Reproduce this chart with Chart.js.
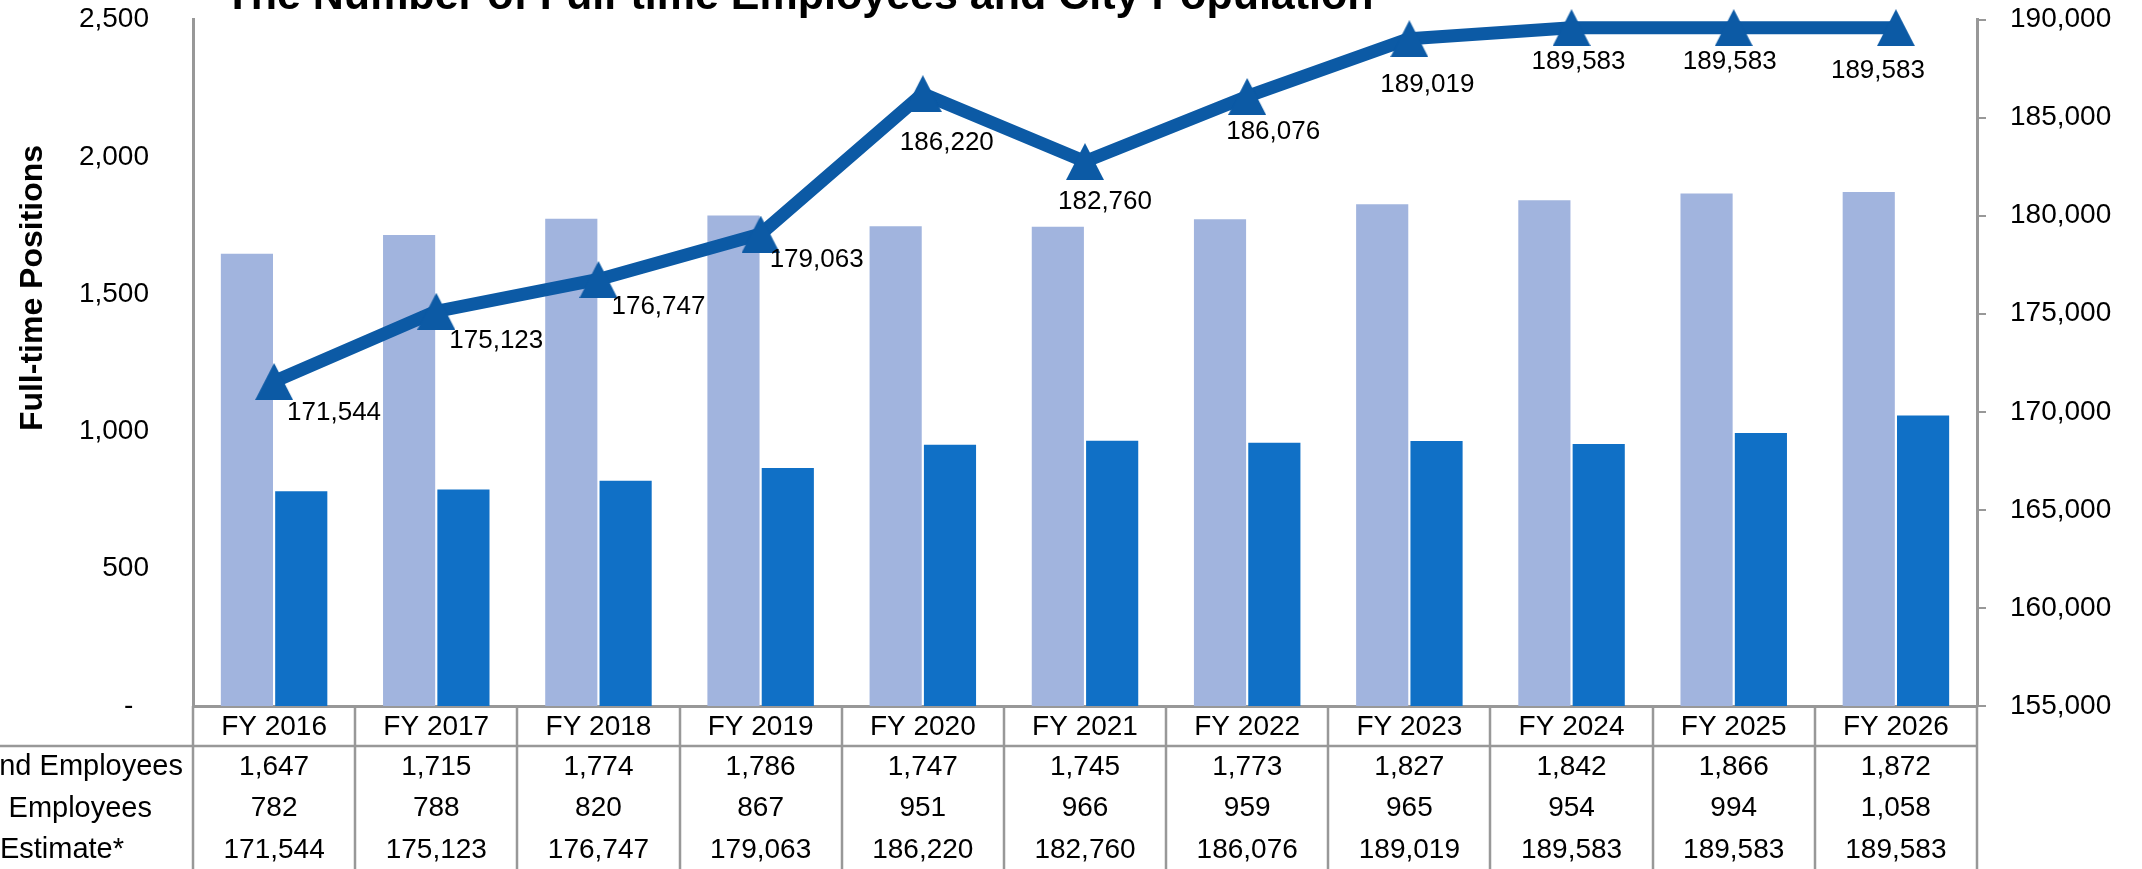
<!DOCTYPE html>
<html>
<head>
<meta charset="utf-8">
<title>Full-time Employees and City Population</title>
<script src="https://cdn.jsdelivr.net/npm/chart.js@4.4.1/dist/chart.umd.min.js"></script>
<style>
  html, body { margin: 0; padding: 0; background: #fff; }
  #wrap { width: 2142px; height: 869px; }
</style>
</head>
<body>
<div id="wrap"><canvas id="chart" width="2142" height="869"></canvas></div>
<script>
// chart data
const fiscalYears = ['FY 2016', 'FY 2017', 'FY 2018', 'FY 2019', 'FY 2020', 'FY 2021',
  'FY 2022', 'FY 2023', 'FY 2024', 'FY 2025', 'FY 2026'];
const generalFundEmployees = [1647, 1715, 1774, 1786, 1747, 1745, 1773, 1827, 1842, 1866, 1872];
const otherFundEmployees = [782, 788, 820, 867, 951, 966, 959, 965, 954, 994, 1058];
const populationEstimate = [171544, 175123, 176747, 179063, 186220, 182760, 186076, 189019, 189583, 189583, 189583];
const tableRowNames = ['General Fund Employees', 'Other Fund Employees', 'Population Estimate*'];

// where each population label sits relative to its point (dx, dy of label centre)
const labelNudge = [[60, 31], [60, 30], [60, 27], [56, 26], [24, 49], [20, 40],
  [26, 35], [18, 46], [7, 34], [-4, 34], [-18, 43]];
// right edge of each (left-clipped) row name in the table
const rowNameRight = [183, 152, 124];

const FONT = "'Liberation Sans', Arial, sans-serif";
const colors = {
  lightBar: '#A1B4DE',
  darkBar: '#1070C6',
  line: '#0C5AA5',
  grid: '#989898',
  text: '#000'
};

const fmt = v => v.toLocaleString('en-US');

// triangle marker, centred on its bounding box like the spreadsheet one
const triangle = document.createElement('canvas');
triangle.width = 38;
triangle.height = 37;
(() => {
  const c = triangle.getContext('2d');
  c.fillStyle = colors.line;
  c.beginPath();
  c.moveTo(19, 0);
  c.lineTo(38, 37);
  c.lineTo(0, 37);
  c.closePath();
  c.fill();
})();

// keep tick padding from pushing the plot area down
const fixWidth = w => s => {
  s.width = w;
  s.paddingTop = 0;
  s.paddingBottom = 0;
};

const extras = {
  id: 'extras',
  afterDatasetsDraw(chart) {
    const ctx = chart.ctx;
    const meta = chart.getDatasetMeta(2);
    ctx.save();
    ctx.fillStyle = colors.text;
    ctx.font = '26px ' + FONT;
    ctx.textAlign = 'center';
    ctx.textBaseline = 'middle';
    meta.data.forEach((pt, i) => {
      const [dx, dy] = labelNudge[i];
      ctx.fillText(fmt(populationEstimate[i]), pt.x + dx, pt.y + dy);
    });
    ctx.restore();
  },
  afterDraw(chart) {
    const ctx = chart.ctx;
    const x = chart.scales.x;
    const area = chart.chartArea;
    ctx.save();

    // title (runs off the top edge in the reference)
    ctx.fillStyle = colors.text;
    ctx.font = 'bold 43px ' + FONT;
    ctx.textAlign = 'center';
    ctx.textBaseline = 'alphabetic';
    ctx.fillText('The Number of Full-time Employees and City Population', 799, 9);

    // left axis title
    ctx.save();
    ctx.translate(42, 288);
    ctx.rotate(-Math.PI / 2);
    ctx.font = 'bold 32px ' + FONT;
    ctx.fillText('Full-time Positions', 0, 0);
    ctx.restore();

    // data table under the plot
    const colW = (x.right - x.left) / fiscalYears.length;
    const top = area.bottom;
    const headBottom = top + 40;
    ctx.strokeStyle = colors.grid;
    ctx.lineWidth = 2.5;
    ctx.beginPath();
    for (let i = 0; i <= fiscalYears.length; i++) {
      const lx = Math.round(x.left + i * colW);
      ctx.moveTo(lx, top);
      ctx.lineTo(lx, chart.height);
    }
    ctx.moveTo(0, headBottom);
    ctx.lineTo(x.right, headBottom);
    ctx.stroke();

    ctx.font = '28px ' + FONT;
    ctx.textBaseline = 'middle';
    const rows = [generalFundEmployees, otherFundEmployees, populationEstimate];
    fiscalYears.forEach((fy, i) => {
      const cx = x.getPixelForValue(i);
      ctx.textAlign = 'center';
      ctx.fillText(fy, cx, top + 21);
      rows.forEach((row, r) => {
        ctx.fillText(fmt(row[i]), cx, top + 61 + r * 41.5);
      });
    });
    ctx.font = '29px ' + FONT;
    ctx.textAlign = 'right';
    tableRowNames.forEach((name, r) => {
      ctx.fillText(name, rowNameRight[r], top + 61 + r * 41.5);
    });
    ctx.restore();
  }
};

new Chart(document.getElementById('chart'), {
  data: {
    labels: fiscalYears,
    datasets: [{
      type: 'bar',
      label: 'General Fund Employees',
      data: generalFundEmployees,
      backgroundColor: colors.lightBar,
      yAxisID: 'y',
      order: 1
    }, {
      type: 'bar',
      label: 'Other Fund Employees',
      data: otherFundEmployees,
      backgroundColor: colors.darkBar,
      yAxisID: 'y',
      order: 1
    }, {
      type: 'line',
      label: 'Population Estimate*',
      data: populationEstimate,
      borderColor: colors.line,
      borderWidth: 13,
      borderJoinStyle: 'round',
      tension: 0,
      pointStyle: triangle,
      pointRadius: 18,
      pointHoverRadius: 18,
      pointBorderWidth: 0,
      yAxisID: 'y2',
      order: 0,
      clip: false
    }]
  },
  options: {
    responsive: false,
    devicePixelRatio: 1,
    animation: false,
    layout: { padding: { top: 19.5, left: 0, right: 0, bottom: 0 } },
    datasets: {
      bar: { categoryPercentage: 0.67, barPercentage: 0.96 }
    },
    plugins: {
      legend: { display: false },
      tooltip: { enabled: false },
      title: { display: false }
    },
    scales: {
      x: {
        grid: { display: false },
        ticks: { display: false },
        border: { display: true, color: colors.grid, width: 3 },
        afterFit: s => { s.height = 163; }
      },
      y: {
        position: 'left',
        min: 0,
        max: 2500,
        ticks: {
          stepSize: 500,
          padding: 36,
          color: colors.text,
          font: { family: FONT, size: 28 },
          callback: v => (v === 0 ? '-  ' : fmt(v))
        },
        grid: { display: false },
        border: { display: true, color: colors.grid, width: 3 },
        afterFit: fixWidth(193)
      },
      y2: {
        position: 'right',
        min: 155000,
        max: 190000,
        ticks: {
          stepSize: 5000,
          padding: 24,
          color: colors.text,
          font: { family: FONT, size: 28 },
          callback: v => fmt(v)
        },
        grid: {
          drawOnChartArea: false,
          drawTicks: true,
          tickLength: 9,
          color: colors.grid,
          lineWidth: 2
        },
        border: { display: true, color: colors.grid, width: 3 },
        afterFit: fixWidth(165)
      }
    }
  },
  plugins: [extras]
});
</script>
</body>
</html>
